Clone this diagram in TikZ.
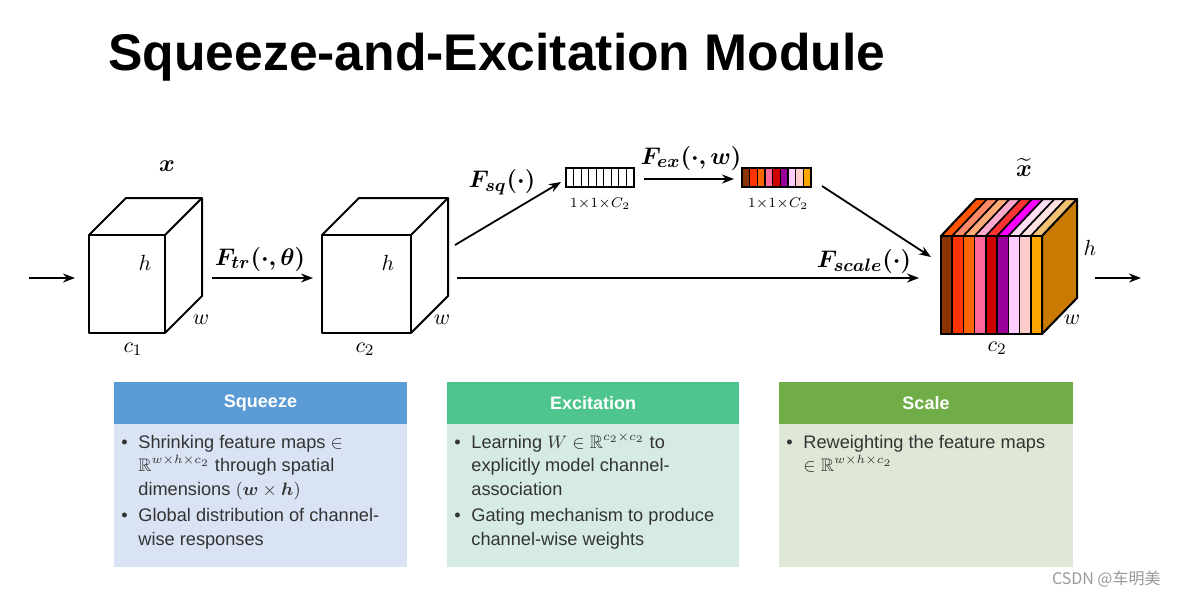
\documentclass[tikz,border=0pt]{standalone}
\usepackage{amsmath, amssymb}
\usepackage{bm}
\usepackage{fontspec}
\setmainfont{Liberation Sans}
\newfontfamily\cjkfont{Noto Sans CJK SC}
\usepackage{tikz}
\usetikzlibrary{
  positioning,
  arrows.meta
}
\definecolor{sqhead}{HTML}{5B9BD5}
\definecolor{sqbody}{HTML}{DAE3F3}
\definecolor{exhead}{HTML}{4EC58C}
\definecolor{exbody}{HTML}{D6ECE2}
\definecolor{schead}{HTML}{70AD47}
\definecolor{scbody}{HTML}{DFE8D6}
% channel weights (front) and their top faces
\definecolor{wA}{HTML}{8B3300}\definecolor{tA}{HTML}{FF5500}
\definecolor{wB}{HTML}{FF3300}\definecolor{tB}{HTML}{FF8866}
\definecolor{wC}{HTML}{FF6600}\definecolor{tC}{HTML}{FFAA77}
\definecolor{wD}{HTML}{FF6699}\definecolor{tD}{HTML}{FFAACC}
\definecolor{wE}{HTML}{CC0000}\definecolor{tE}{HTML}{FF3333}
\definecolor{wF}{HTML}{990099}\definecolor{tF}{HTML}{FF00FF}
\definecolor{wG}{HTML}{FFCCFF}\definecolor{tG}{HTML}{FFDDF2}
\definecolor{wH}{HTML}{FFCCCC}\definecolor{tH}{HTML}{FFE2E2}
\definecolor{wI}{HTML}{FFA500}\definecolor{tI}{HTML}{F2C274}
\definecolor{sidefc}{HTML}{C97A00}
\tikzset{
  arr/.style={-{Stealth[length=6pt,width=4.5pt]}, line width=0.9pt},
  cubeline/.style={line width=1pt, line join=round},
  stripe/.style={line width=0.8pt, line join=round},
  cell/.style={line width=0.55pt},
  lbl/.style={font=\fontsize{12.5}{14}\selectfont, inner sep=0pt},
  dimlbl/.style={font=\fontsize{11}{13}\selectfont, inner sep=0pt},
  smalllbl/.style={font=\fontsize{7.5}{9}\selectfont, inner sep=0pt},
  titletxt/.style={font=\fontsize{25.8}{30}\selectfont\bfseries, inner sep=0pt},
  hdrtxt/.style={font=\fontsize{9}{11}\selectfont\bfseries, text=white, inner sep=0pt},
  bodytxt/.style={font=\fontsize{9.1}{11.75}\selectfont, inner sep=0pt, text=black!80}
}

\begin{document}
\begin{tikzpicture}[x=0.5pt,y=-0.5pt]
  \useasboundingbox (0,0) rectangle (1177,595);
  % title
  \node[titletxt, anchor=base west] (title) at (108,70) {Squeeze-and-Excitation Module};

  % cube x
  \draw[cubeline] (89,235) rectangle (165,333);
  \draw[cubeline] (89,235) -- (126,198) -- (202,198) -- (202,296) -- (165,333);
  \draw[cubeline] (165,235) -- (202,198);
  \node[lbl] (xlab) at (167,166) {$\bm{x}$};
  \node[dimlbl] (h1) at (145,263) {$h$};
  \node[dimlbl] (w1) at (201,320) {$w$};
  \node[dimlbl] (c1) at (133,349) {$c_1$};

  % cube after F_tr
  \draw[cubeline] (322,235) rectangle (411,333);
  \draw[cubeline] (322,235) -- (359,198) -- (448,198) -- (448,296) -- (411,333);
  \draw[cubeline] (411,235) -- (448,198);
  \node[dimlbl] (h2) at (388,263) {$h$};
  \node[dimlbl] (w2) at (442,320) {$w$};
  \node[dimlbl] (c2) at (365,349) {$c_2$};

  % squeezed vector
  \foreach \i in {0,...,8}
    \draw[cell] (566+\i*7.56,168) rectangle ++(7.56,19);
  \node[smalllbl] (sqdim) at (600,204) {$1{\times}1{\times}C_2$};

  % excited vector (channel weights)
  \foreach \c [count=\i from 0] in {wA,wB,wC,wD,wE,wF,wG,wH,wI}
    \filldraw[cell, fill=\c] (742+\i*7.67,168) rectangle ++(7.67,19);
  \node[smalllbl] (exdim) at (778,204) {$1{\times}1{\times}C_2$};

  % rescaled cube
  \foreach \fc/\tc [count=\i from 0] in {wA/tA,wB/tB,wC/tC,wD/tD,wE/tE,wF/tF,wG/tG,wH/tH,wI/tI}{
    \filldraw[stripe, fill=\tc] (941+\i*11.22,236) -- (976+\i*11.22,199)
      -- (987.22+\i*11.22,199) -- (952.22+\i*11.22,236) -- cycle;
    \filldraw[stripe, fill=\fc] (941+\i*11.22,236) rectangle ++(11.22,98);
  }
  \filldraw[cubeline, fill=sidefc] (1042,236) -- (1077,199) -- (1077,298) -- (1042,334) -- cycle;
  \draw[cubeline] (941,236) rectangle (1042,334);
  \draw[cubeline] (941,236) -- (976,199) -- (1077,199);
  \node[lbl] (xtlab) at (1024,167) {$\widetilde{\bm{x}}$};
  \node[dimlbl] (h3) at (1090,248) {$h$};
  \node[dimlbl] (w3) at (1072,320) {$w$};
  \node[dimlbl] (c3) at (997,348) {$c_2$};

  % connector ends
  \coordinate (inL) at (29,278);
  \coordinate (inR) at (75,278);
  \coordinate (trL) at (212,278);
  \coordinate (trR) at (313,278);
  \coordinate (scL) at (457,278);
  \coordinate (scR) at (919,278);
  \coordinate (sqL) at (455,245);
  \coordinate (sqR) at (561,182);
  \coordinate (exL) at (644,179);
  \coordinate (exR) at (734,179);
  \coordinate (wtL) at (822,186);
  \coordinate (wtR) at (931,257);
  \coordinate (outL) at (1095,278);
  \coordinate (outR) at (1141,278);

  % arrows
  \draw[arr] (inL) -- (inR);
  \draw[arr] (trL) -- (trR);
  \draw[arr] (scL) -- (scR);
  \draw[arr] (sqL) -- (sqR);
  \draw[arr] (exL) -- (exR);
  \draw[arr] (wtL) -- (wtR);
  \draw[arr] (outL) -- (outR);
  \node[lbl] (Ftr) at (260,259) {$\bm{F_{tr}(\cdot,\theta)}$};
  \node[lbl] (Fsq) at (502,182) {$\bm{F_{sq}(\cdot)}$};
  \node[lbl] (Fex) at (691,158) {$\bm{F_{ex}(\cdot,w)}$};
  \node[lbl] (Fsc) at (864,261) {$\bm{F_{scale}(\cdot)}$};

  % Squeeze box
  \fill[sqhead] (114,382) rectangle (407,424);
  \fill[sqbody] (114,424) rectangle (407,567);
  \node[hdrtxt] (sqhdr) at (260.5,403) {Squeeze};
  \node[bodytxt, anchor=base west] (sqtxt) at (121,448) {%
    \begin{tabular}[t]{@{}p{8.5pt}@{}l@{}}
      \textbullet & Shrinking feature maps $\in$\\
      & $\mathbb{R}^{w\times h\times c_2}$ through spatial\\
      & dimensions $(\bm{w}\times\bm{h})$\\[1.7pt]
      \textbullet & Global distribution of channel-\\
      & wise responses
    \end{tabular}};

  % Excitation box
  \fill[exhead] (447,382) rectangle (739,424);
  \fill[exbody] (447,424) rectangle (739,567);
  \node[hdrtxt] (exhdr) at (593,403) {Excitation};
  \node[bodytxt, anchor=base west] (extxt) at (454,448) {%
    \begin{tabular}[t]{@{}p{8.5pt}@{}l@{}}
      \textbullet & Learning $W\in\mathbb{R}^{c_2\times c_2}$ to\\
      & explicitly model channel-\\
      & association\\[1.7pt]
      \textbullet & Gating mechanism to produce\\
      & channel-wise weights
    \end{tabular}};

  % Scale box
  \fill[schead] (779,382) rectangle (1073,424);
  \fill[scbody] (779,424) rectangle (1073,567);
  \node[hdrtxt] (schdr) at (926,403) {Scale};
  \node[bodytxt, anchor=base west] (sctxt) at (786,448) {%
    \begin{tabular}[t]{@{}p{8.5pt}@{}l@{}}
      \textbullet & Reweighting the feature maps\\
      & $\in\mathbb{R}^{w\times h\times c_2}$
    \end{tabular}};

  % watermark
  \node[font=\fontsize{8}{10}\cjkfont, text=black!40, anchor=base east, inner sep=0pt]
    (mark) at (1161,584) {CSDN @车明美};
\end{tikzpicture}
\end{document}
